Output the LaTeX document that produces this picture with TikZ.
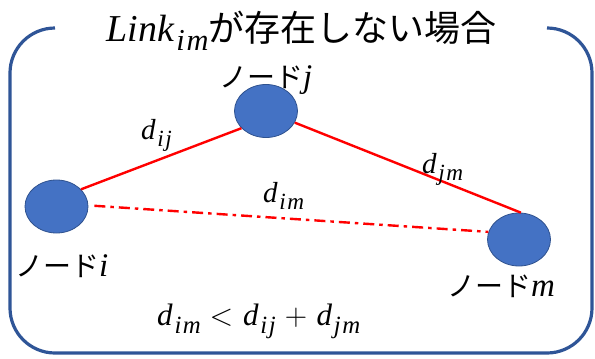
\RequirePackage{fix-cm}
\documentclass[tikz,border=0pt]{standalone}
\usepackage{fontspec}
\newfontfamily\jp{Noto Sans CJK JP}
\newfontfamily\mi{Liberation Serif}
\newfontfamily\misub{Liberation Serif}[LetterSpace=6]
\newcommand\vr[2]{#1\hspace{0.06em}\raisebox{-0.26em}{\scalebox{0.8}{\misub\itshape #2}}}
\usetikzlibrary{shapes.geometric}
\definecolor{frameblue}{HTML}{2F5597}
\definecolor{nodefill}{HTML}{4472C4}
\definecolor{nodeline}{HTML}{2F528F}
\definecolor{linkred}{HTML}{FF0000}
\begin{document}
\begin{tikzpicture}[x=1pt,y=-1pt,
  framebox/.style={draw=frameblue,line width=3.2pt,rounded corners=45pt},
  netnode/.style={ellipse,draw=nodeline,fill=nodefill,line width=0.8pt,minimum width=63pt,minimum height=53pt,inner sep=0pt},
  link/.style={draw=linkred,line width=2.4pt},
  nolink/.style={draw=linkred,line width=2.4pt,dash pattern=on 11pt off 5pt on 3.5pt off 5pt},
  jlbl/.style={inner sep=0pt,anchor=base west,font=\fontsize{28}{32}\selectfont\jp},
  dlbl/.style={inner sep=0pt,anchor=base west,font=\fontsize{29}{32}\selectfont\mi\itshape},
  ttl/.style={inner sep=0pt,anchor=base,font=\fontsize{36}{40}\selectfont\jp},
]
\useasboundingbox (0,0) rectangle (595,359);
\draw[framebox] (55,28) -- (10,28) -- (10,353) -- (592,353) -- (592,28) -- (547,28);
\node[ttl] (title) at (301.5,41) {{\fontsize{38}{40}\selectfont\mi\itshape\vr{Link}{im}}が存在しない場合};

\node[netnode] (i) at (56.5,206.5) {};
\node[netnode] (j) at (266,111) {};
\node[netnode] (m) at (519,239.5) {};

\draw[link] (i.35) -- (j.215);
\draw[link] (j.-22) -- (m.86);
\draw[nolink,shorten <=6pt] (i.2) -- (m.166);

\node[jlbl] (li) at (15,276) {ノード{\fontsize{33}{34}\selectfont\mi\itshape i}};
\node[jlbl] (lj) at (219,87) {ノード{\fontsize{33}{34}\selectfont\mi\itshape j}};
\node[jlbl] (lm) at (447,296) {ノード{\fontsize{33}{34}\selectfont\mi\itshape m}};

\node[dlbl] (dij) at (141,139) {\vr{d}{ij}};
\node[dlbl] (djm) at (422,173) {\vr{d}{jm}};
\node[dlbl] (dim) at (263,202) {\vr{d}{im}};
\node[dlbl,font=\fontsize{31}{34}\selectfont\mi\itshape] (ineq) at (157,325) {\vr{d}{im}\hspace{0.28em}$<$\hspace{0.32em}\vr{d}{ij}\hspace{0.3em}$+$\hspace{0.3em}\vr{d}{jm}};
\end{tikzpicture}
\end{document}
